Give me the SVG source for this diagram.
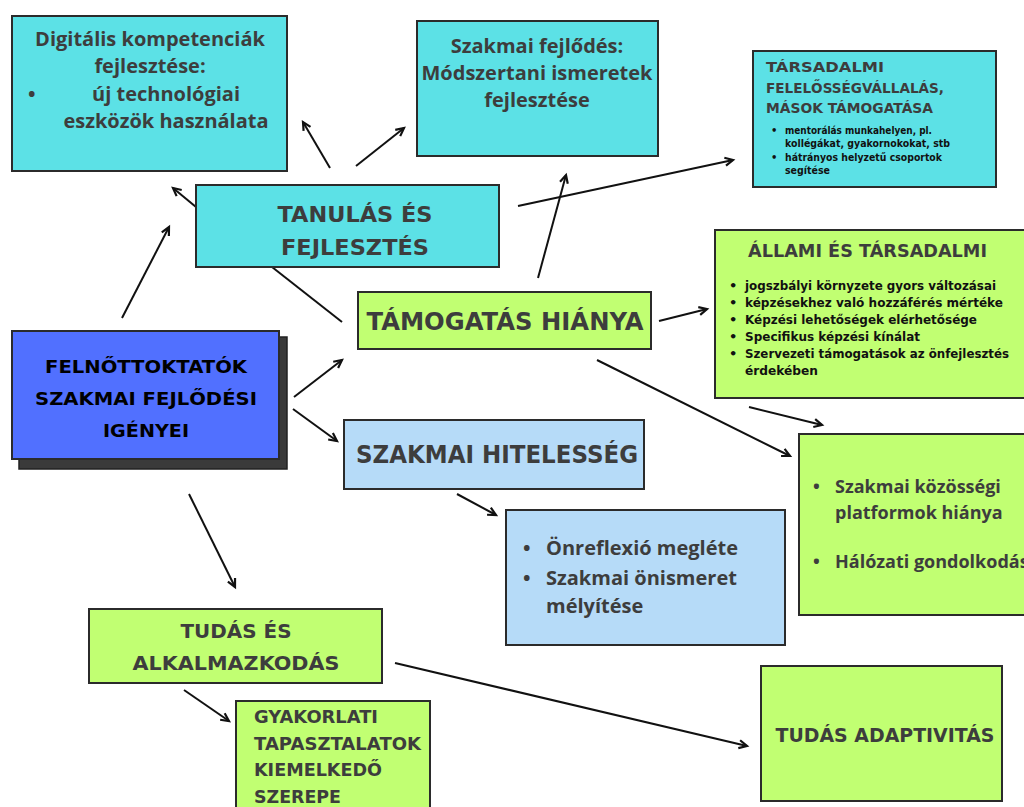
<svg xmlns="http://www.w3.org/2000/svg" width="1024" height="807" viewBox="0 0 1024 807">
<defs>
<marker id="arr" markerUnits="userSpaceOnUse" markerWidth="12" markerHeight="12" refX="9" refY="5" orient="auto" overflow="visible">
<path d="M1,1 L9,5 L1,9" fill="none" stroke="#111" stroke-width="2.2" stroke-linejoin="miter"/>
</marker>
<style>
.box{stroke:#2b2b2b;stroke-width:2}
.cy{fill:#5ce1e6}
.gr{fill:#c1ff72}
.lb{fill:#b6dbf8}
.os{font-family:"Open Sans","Liberation Sans",sans-serif;font-weight:700;fill:#3d3d3d}
.mo{font-family:"DejaVu Sans","Liberation Sans",sans-serif;font-weight:700;fill:#3d3d3d}
.bk{fill:#111}
.c{text-anchor:middle}
.con line{stroke:#111;stroke-width:2}
</style>
</defs>
<rect width="1024" height="807" fill="#ffffff"/>

<g id="connectors" class="con">
<line x1="122" y1="318" x2="169" y2="227" marker-end="url(#arr)"/>
<line x1="196" y1="207" x2="173" y2="188" marker-end="url(#arr)"/>
<line x1="330" y1="168" x2="303" y2="122" marker-end="url(#arr)"/>
<line x1="356" y1="166" x2="404" y2="128" marker-end="url(#arr)"/>
<line x1="518" y1="206" x2="733" y2="160" marker-end="url(#arr)"/>
<line x1="538" y1="278" x2="566" y2="175" marker-end="url(#arr)"/>
<line x1="272" y1="267" x2="342" y2="322"/>
<line x1="294" y1="397" x2="342" y2="360" marker-end="url(#arr)"/>
<line x1="293" y1="409" x2="337" y2="441" marker-end="url(#arr)"/>
<line x1="659" y1="321" x2="707" y2="309" marker-end="url(#arr)"/>
<line x1="749" y1="407" x2="822" y2="425" marker-end="url(#arr)"/>
<line x1="597" y1="360" x2="790" y2="456" marker-end="url(#arr)"/>
<line x1="457" y1="494" x2="496" y2="515" marker-end="url(#arr)"/>
<line x1="189" y1="494" x2="235" y2="587" marker-end="url(#arr)"/>
<line x1="184" y1="690" x2="229" y2="721" marker-end="url(#arr)"/>
<line x1="395" y1="663" x2="747" y2="746" marker-end="url(#arr)"/>
</g>

<g id="node-digitalis">
<rect class="box cy" x="12" y="16" width="275" height="155"/>
<text class="os c" x="150" y="46" font-size="20">Digitális kompetenciák</text>
<text class="os c" x="150" y="73" font-size="20">fejlesztése:</text>
<text class="os" x="28" y="101" font-size="20">•</text>
<text class="os c" x="166" y="101" font-size="20">új technológiai</text>
<text class="os c" x="166" y="128" font-size="20">eszközök használata</text>
</g>

<g id="node-szakmai-fejlodes">
<rect class="box cy" x="417" y="21" width="241" height="135"/>
<text class="os c" x="537" y="53" font-size="20">Szakmai fejlődés:</text>
<text class="os c" x="537" y="80" font-size="20">Módszertani ismeretek</text>
<text class="os c" x="537" y="107" font-size="20">fejlesztése</text>
</g>

<g id="node-tarsadalmi">
<rect class="box cy" x="753" y="51" width="243" height="136"/>
<text class="mo" x="766" y="72" font-size="14" textLength="118" lengthAdjust="spacingAndGlyphs">TÁRSADALMI</text>
<text class="mo" x="766" y="93" font-size="14" textLength="178" lengthAdjust="spacingAndGlyphs">FELELŐSSÉGVÁLLALÁS,</text>
<text class="mo" x="766" y="113" font-size="14" textLength="167" lengthAdjust="spacingAndGlyphs">MÁSOK TÁMOGATÁSA</text>
<text class="mo bk" x="771" y="134" font-size="10">•</text>
<text class="mo bk" x="785" y="134" font-size="10" textLength="147" lengthAdjust="spacingAndGlyphs">mentorálás munkahelyen, pl.</text>
<text class="mo bk" x="785" y="147" font-size="10" textLength="165" lengthAdjust="spacingAndGlyphs">kollégákat, gyakornokokat, stb</text>
<text class="mo bk" x="771" y="161" font-size="10">•</text>
<text class="mo bk" x="785" y="161" font-size="10" textLength="157" lengthAdjust="spacingAndGlyphs">hátrányos helyzetű csoportok</text>
<text class="mo bk" x="785" y="174" font-size="10" textLength="45" lengthAdjust="spacingAndGlyphs">segítése</text>
</g>

<g id="node-tanulas">
<rect class="box cy" x="196" y="185" width="303" height="82"/>
<text class="mo c" x="355" y="222" font-size="22" textLength="155" lengthAdjust="spacingAndGlyphs">TANULÁS ÉS</text>
<text class="mo c" x="355" y="255" font-size="22" textLength="148" lengthAdjust="spacingAndGlyphs">FEJLESZTÉS</text>
</g>

<g id="node-center">
<rect x="19" y="337" width="268" height="132" fill="#3a3a3a" stroke="#222" stroke-width="1.5"/>
<rect class="box" x="12" y="331" width="267" height="128" fill="#5170ff"/>
<text class="mo c" x="146" y="373" font-size="18" fill="#000" style="fill:#000" textLength="202" lengthAdjust="spacingAndGlyphs">FELNŐTTOKTATÓK</text>
<text class="mo c" x="146" y="405" font-size="18" style="fill:#000" textLength="222" lengthAdjust="spacingAndGlyphs">SZAKMAI FEJLŐDÉSI</text>
<text class="mo c" x="146" y="437" font-size="18" style="fill:#000" textLength="86" lengthAdjust="spacingAndGlyphs">IGÉNYEI</text>
</g>

<g id="node-tamogatas">
<rect class="box gr" x="358" y="292" width="293" height="57"/>
<text class="mo c" x="505" y="330" font-size="25" textLength="277" lengthAdjust="spacingAndGlyphs">TÁMOGATÁS HIÁNYA</text>
</g>

<g id="node-allami">
<rect class="box gr" x="715" y="230" width="320" height="168"/>
<text class="mo" x="748" y="257" font-size="18" textLength="239" lengthAdjust="spacingAndGlyphs">ÁLLAMI ÉS TÁRSADALMI</text>
<text class="mo bk" x="729" y="290" font-size="13">•</text>
<text class="mo bk" x="745" y="290" font-size="13" textLength="251" lengthAdjust="spacingAndGlyphs">jogszbályi környzete gyors változásai</text>
<text class="mo bk" x="729" y="307" font-size="13">•</text>
<text class="mo bk" x="745" y="307" font-size="13" textLength="258" lengthAdjust="spacingAndGlyphs">képzésekhez való hozzáférés mértéke</text>
<text class="mo bk" x="729" y="324" font-size="13">•</text>
<text class="mo bk" x="745" y="324" font-size="13" textLength="232" lengthAdjust="spacingAndGlyphs">Képzési lehetőségek elérhetősége</text>
<text class="mo bk" x="729" y="341" font-size="13">•</text>
<text class="mo bk" x="745" y="341" font-size="13" textLength="175" lengthAdjust="spacingAndGlyphs">Specifikus képzési kínálat</text>
<text class="mo bk" x="729" y="358" font-size="13">•</text>
<text class="mo bk" x="745" y="358" font-size="13" textLength="264" lengthAdjust="spacingAndGlyphs">Szervezeti támogatások az önfejlesztés</text>
<text class="mo bk" x="745" y="375" font-size="13" textLength="73" lengthAdjust="spacingAndGlyphs">érdekében</text>
</g>

<g id="node-hitelesseg">
<rect class="box lb" x="344" y="420" width="300" height="69"/>
<text class="mo c" x="497" y="463" font-size="24" textLength="282" lengthAdjust="spacingAndGlyphs">SZAKMAI HITELESSÉG</text>
</g>

<g id="node-onreflexio">
<rect class="box lb" x="506" y="510" width="279" height="135"/>
<text class="os" x="523" y="555" font-size="20">•</text>
<text class="os" x="546" y="555" font-size="20">Önreflexió megléte</text>
<text class="os" x="523" y="585" font-size="20">•</text>
<text class="os" x="546" y="585" font-size="20">Szakmai önismeret</text>
<text class="os" x="546" y="613" font-size="20">mélyítése</text>
</g>

<g id="node-kozossegi">
<rect class="box gr" x="799" y="434" width="240" height="181"/>
<text class="os" x="813" y="493" font-size="18">•</text>
<text class="os" x="835" y="493" font-size="18">Szakmai közösségi</text>
<text class="os" x="835" y="519" font-size="18">platformok hiánya</text>
<text class="os" x="813" y="568" font-size="18">•</text>
<text class="os" x="835" y="568" font-size="18">Hálózati gondolkodás</text>
</g>

<g id="node-tudas">
<rect class="box gr" x="89" y="609" width="293" height="74"/>
<text class="mo c" x="236" y="638" font-size="20" textLength="111" lengthAdjust="spacingAndGlyphs">TUDÁS ÉS</text>
<text class="mo c" x="236" y="670" font-size="20" textLength="207" lengthAdjust="spacingAndGlyphs">ALKALMAZKODÁS</text>
</g>

<g id="node-gyakorlati">
<rect class="box gr" x="236" y="701" width="194" height="120"/>
<text class="mo" x="254" y="723" font-size="18" textLength="124" lengthAdjust="spacingAndGlyphs">GYAKORLATI</text>
<text class="mo" x="254" y="750" font-size="18" textLength="167" lengthAdjust="spacingAndGlyphs">TAPASZTALATOK</text>
<text class="mo" x="254" y="776" font-size="18" textLength="128" lengthAdjust="spacingAndGlyphs">KIEMELKEDŐ</text>
<text class="mo" x="254" y="803" font-size="18" textLength="87" lengthAdjust="spacingAndGlyphs">SZEREPE</text>
</g>

<g id="node-adaptivitas">
<rect class="box gr" x="761" y="666" width="241" height="135"/>
<text class="mo c" x="885" y="742" font-size="19" textLength="219" lengthAdjust="spacingAndGlyphs">TUDÁS ADAPTIVITÁS</text>
</g>
</svg>
